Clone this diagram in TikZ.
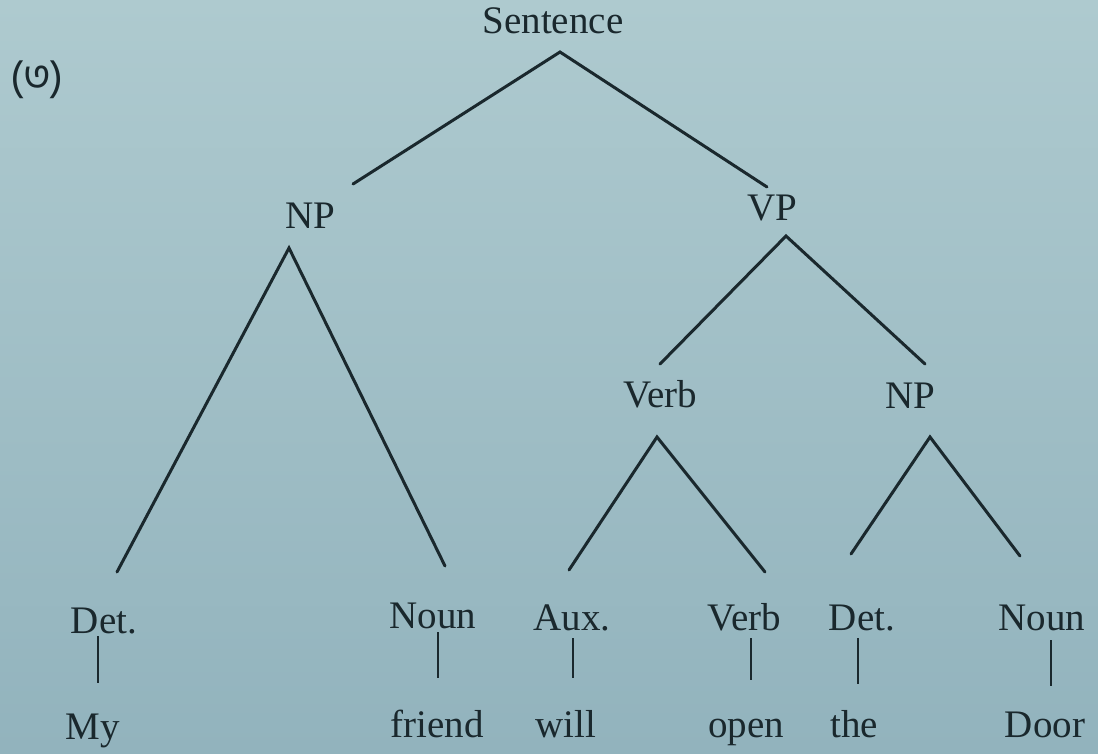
\documentclass[tikz,border=0pt]{standalone}
\usepackage{fontspec}
\setmainfont{Liberation Serif}
\newfontfamily\bngfont[Script=Bengali]{Hind Siliguri}
\definecolor{ink}{HTML}{1A282D}
\definecolor{papertop}{HTML}{AECACF}
\definecolor{paperbot}{HTML}{92B3BD}
\tikzset{
  lbl/.style={anchor=base, inner sep=0pt, text=ink, font=\fontsize{39}{40}\selectfont},
  edge/.style={draw=ink, line width=3pt, line cap=round},
  tick/.style={draw=ink, line width=2.8pt, line cap=butt},
}
\begin{document}
\begin{tikzpicture}[x=1pt,y=-1pt]
\useasboundingbox (0,0) rectangle (1098,753);
\shade[top color=papertop, bottom color=paperbot] (0,0) rectangle (1098,753);

% section label
\node[text=ink, inner sep=0pt, font=\bngfont\fontsize{42}{44}\selectfont] (num) at (37,80) {(৩)};

% labels
\node[lbl] (S) at (553,33) {Sentence};
\node[lbl] (NP1) at (310,228) {NP};
\node[lbl] (VP) at (772,220) {VP};
\node[lbl] (V1) at (660,407) {Verb};
\node[lbl] (NP2) at (910,408) {NP};
\node[lbl] (D1) at (104,633) {Det.};
\node[lbl] (N1) at (433,628) {Noun};
\node[lbl] (A1) at (572,630) {Aux.};
\node[lbl] (V2) at (744,630) {Verb};
\node[lbl] (D2) at (862,630) {Det.};
\node[lbl] (N2) at (1042,630) {Noun};
\node[lbl] (w1) at (93,739) {My};
\node[lbl] (w2) at (437,737) {friend};
\node[lbl] (w3) at (566,737) {will};
\node[lbl] (w4) at (746,737) {open};
\node[lbl] (w5) at (854,737) {the};
\node[lbl] (w6) at (1045,737) {Door};

% branch points
\coordinate (S-a) at (560,52);
\coordinate (NP1-t) at (353,184);
\coordinate (VP-t) at (767,187);
\coordinate (NP1-a) at (289,248);
\coordinate (VP-a) at (786,236);
\coordinate (V1-t) at (660,364);
\coordinate (NP2-t) at (925,364);
\coordinate (V1-a) at (657,437);
\coordinate (NP2-a) at (930,437);
\coordinate (D1-t) at (117,572);
\coordinate (N1-t) at (445,566);
\coordinate (A1-t) at (569,570);
\coordinate (V2-t) at (765,572);
\coordinate (D2-t) at (851,554);
\coordinate (N2-t) at (1020,556);

\draw[edge] (NP1-t) -- (S-a) -- (VP-t);
\draw[edge] (D1-t) -- (NP1-a) -- (N1-t);
\draw[edge] (V1-t) -- (VP-a) -- (NP2-t);
\draw[edge] (A1-t) -- (V1-a) -- (V2-t);
\draw[edge] (D2-t) -- (NP2-a) -- (N2-t);

% word ticks
\coordinate (D1-u) at (98,636);  \coordinate (w1-u) at (98,683);
\coordinate (N1-u) at (438,632); \coordinate (w2-u) at (438,678);
\coordinate (A1-u) at (573,638); \coordinate (w3-u) at (573,678);
\coordinate (V2-u) at (751,638); \coordinate (w4-u) at (751,680);
\coordinate (D2-u) at (858,638); \coordinate (w5-u) at (858,684);
\coordinate (N2-u) at (1051,640);\coordinate (w6-u) at (1051,686);
\draw[tick] (D1-u) -- (w1-u);
\draw[tick] (N1-u) -- (w2-u);
\draw[tick] (A1-u) -- (w3-u);
\draw[tick] (V2-u) -- (w4-u);
\draw[tick] (D2-u) -- (w5-u);
\draw[tick] (N2-u) -- (w6-u);
\end{tikzpicture}
\end{document}
